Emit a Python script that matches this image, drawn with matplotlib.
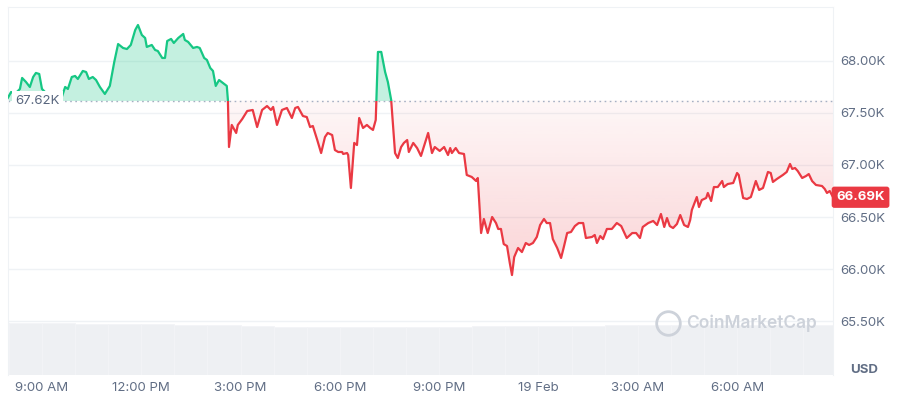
import numpy as np
import matplotlib
matplotlib.use('Agg')
import matplotlib.pyplot as plt
from matplotlib.patches import Rectangle

plt.rcParams['font.family'] = ['Inter', 'DejaVu Sans']

# minutes since 18 Feb 00:00 and BTC price (USD)
minutes = [478, 484, 491, 500, 504, 511, 518, 524, 529, 535, 540, 551, 564, 576, 582, 587,
           594, 600, 605, 614, 620, 625, 632, 638, 645, 654, 663, 671, 678, 687, 694, 701,
           709, 714, 721, 727, 730, 739, 745, 750, 758, 763, 767, 774, 779, 787, 796, 799,
           805, 814, 821, 826, 834, 839, 845, 850, 855, 861, 868, 875, 877, 879, 884, 892,
           895, 903, 912, 922, 930, 939, 948, 955, 959, 966, 975, 984, 993, 999, 1004, 1013,
           1020, 1026, 1031, 1039, 1046, 1053, 1058, 1066, 1071, 1077, 1084, 1086, 1093, 1095,
           1100, 1106, 1111, 1115, 1122, 1129, 1135, 1140, 1145, 1149, 1155, 1162, 1167, 1173,
           1180, 1185, 1191, 1196, 1202, 1205, 1213, 1220, 1227, 1232, 1240, 1247, 1252, 1261,
           1269, 1276, 1280, 1283, 1290, 1296, 1305, 1310, 1319, 1327, 1330, 1336, 1341, 1348,
           1356, 1363, 1367, 1372, 1377, 1383, 1388, 1392, 1396, 1403, 1410, 1417, 1423, 1430,
           1437, 1443, 1450, 1455, 1461, 1466, 1474, 1481, 1486, 1492, 1499, 1506, 1513, 1521,
           1526, 1537, 1542, 1546, 1552, 1557, 1564, 1573, 1582, 1590, 1595, 1600, 1610, 1617,
           1624, 1629, 1639, 1648, 1655, 1662, 1668, 1673, 1678, 1684, 1691, 1697, 1704, 1711,
           1715, 1718, 1727, 1731, 1736, 1744, 1747, 1753, 1758, 1765, 1773, 1776, 1783, 1793,
           1800, 1803, 1811, 1818, 1825, 1834, 1840, 1847, 1856, 1861, 1865, 1872, 1883, 1890,
           1896, 1900, 1905, 1910, 1918, 1925, 1930, 1936, 1943, 1954, 1959, 1963, 1968, 1974]
prices = [67644, 67702, 67683, 67731, 67837, 67798, 67750, 67846, 67885, 67875, 67731, 67673,
          67663, 67654, 67750, 67731, 67846, 67856, 67827, 67904, 67894, 67827, 67846, 67817,
          67750, 67683, 67760, 67990, 68163, 68125, 68115, 68154, 68298, 68346, 68250, 68221,
          68135, 68154, 68106, 68096, 68029, 68029, 68192, 68212, 68173, 68221, 68260, 68202,
          68183, 68125, 68135, 68125, 68029, 68010, 67933, 67904, 67760, 67817, 67788, 67760,
          67625, 67173, 67385, 67308, 67385, 67442, 67519, 67529, 67365, 67529, 67567, 67529,
          67558, 67385, 67529, 67548, 67452, 67548, 67558, 67471, 67461, 67365, 67375, 67240,
          67115, 67269, 67308, 67288, 67144, 67125, 67125, 67106, 67115, 67096, 66779, 67212,
          67192, 67452, 67356, 67385, 67356, 67337, 67433, 68087, 68087, 67894, 67798, 67625,
          67115, 67067, 67173, 67212, 67240, 67125, 67212, 67163, 67087, 67173, 67308, 67115,
          67173, 67135, 67173, 67096, 67163, 67115, 67163, 67115, 67106, 66904, 66885, 66846,
          66875, 66346, 66481, 66346, 66500, 66442, 66385, 66385, 66240, 66221, 66058, 65942,
          66115, 66202, 66163, 66250, 66231, 66250, 66308, 66423, 66481, 66442, 66442, 66288,
          66202, 66106, 66212, 66346, 66356, 66413, 66442, 66442, 66298, 66308, 66327, 66250,
          66317, 66288, 66385, 66385, 66442, 66413, 66356, 66298, 66346, 66346, 66298, 66404,
          66442, 66462, 66423, 66529, 66404, 66490, 66413, 66394, 66433, 66519, 66423, 66404,
          66471, 66567, 66692, 66596, 66663, 66683, 66731, 66654, 66788, 66788, 66846, 66788,
          66817, 66827, 66923, 66904, 66683, 66673, 66692, 66846, 66760, 66779, 66933, 66923,
          66837, 66865, 66904, 66933, 67010, 66962, 66971, 66942, 66875, 66894, 66913, 66846,
          66808, 66798, 66769, 66731, 66750, 66690]
open_price = 67620
last_price = 66690

# volume strip (relative levels per hour)
vol_hours = list(range(7, 33))
vol_levels = [1.0, 1.0, 1.0, 0.99, 0.98, 0.98, 0.97, 0.96, 0.95, 0.93, 0.93, 0.92, 0.92,
              0.93, 0.93, 0.94, 0.95, 0.95, 0.95, 0.96, 0.96, 0.96, 0.97, 0.97, 0.97, 0.97]

tick_minutes = [540, 720, 900, 1080, 1260, 1440, 1620, 1800]
tick_labels = ['9:00 AM', '12:00 PM', '3:00 PM', '6:00 PM', '9:00 PM', '19 Feb', '3:00 AM', '6:00 AM']
y_ticks = [65500, 66000, 66500, 67000, 67500, 68000]

GREEN = '#16c784'
RED = '#ea3943'
GRAY = '#616e85'
GRID = '#eff2f5'

t = np.array(minutes, dtype=float)
p = np.array(prices, dtype=float)

fig = plt.figure(figsize=(9, 4), dpi=100)
ax = fig.add_axes([8 / 900, 25 / 400, 825 / 900, 368 / 400])
ax2 = ax.twinx()
ax.set_zorder(2)
ax.patch.set_visible(False)

# volume band
ax2.bar(np.array(vol_hours) * 60, vol_levels, width=60, align='edge',
        color='#eef0f3', edgecolor='#f3f4f7', linewidth=0.6)
ax2.set_ylim(0, 7.08)
ax2.set_axis_off()

xmin, xmax = 478.4, 1973.9
ymin, ymax = 64981, 68519

# fills
ax.fill_between(t, np.maximum(p, open_price), open_price, color=GREEN, alpha=0.25, lw=0)
poly = ax.fill_between(t, np.minimum(p, open_price), open_price, facecolor='none', lw=0)
grad = np.zeros((256, 1, 4))
grad[..., :3] = matplotlib.colors.to_rgb(RED)
grad[:, 0, 3] = np.linspace(0.04, 0.22, 256)
im = ax.imshow(grad, extent=[t[0], t[-1], min(prices), open_price], aspect='auto',
               origin='upper', zorder=1)
im.set_clip_path(poly.get_paths()[0], ax.transData)

# reference line
ax.axhline(open_price, color='#a6b0c3', lw=1, ls=(0, (1.2, 2.5)), zorder=2)

# price line, green above open, red below
above = Rectangle((xmin, open_price), xmax - xmin, 1e5, transform=ax.transData)
below = Rectangle((xmin, open_price - 1e5), xmax - xmin, 1e5, transform=ax.transData)
g, = ax.plot(t, p, color=GREEN, lw=1.6, solid_joinstyle='round', zorder=3)
g.set_clip_path(above)
r, = ax.plot(t, p, color=RED, lw=1.6, solid_joinstyle='round', zorder=3)
r.set_clip_path(below)

ax.set_xlim(xmin, xmax)
ax.set_ylim(ymin, ymax)

ax.set_yticks(y_ticks)
ax.yaxis.set_major_formatter(lambda v, pos: f'{v / 1000:.2f}K')
ax.tick_params(axis='y', length=0, pad=5, labelright=True, labelleft=False,
               labelcolor=GRAY, labelsize=9.5)
ax.set_xticks(tick_minutes, tick_labels)
ax.tick_params(axis='x', length=0, pad=5, labelcolor=GRAY, labelsize=9.5)
ax.grid(axis='y', color=GRID, lw=1)
ax.set_axisbelow(True)
for s in ax.spines.values():
    s.set_color(GRID)
ax.spines['bottom'].set_visible(False)

# labels
ax.text(0.009, open_price, '67.62K', transform=ax.get_yaxis_transform(), ha='left',
        va='center', fontsize=9.5, color='#58667e', zorder=5,
        bbox=dict(boxstyle='square,pad=0.25', fc='white', ec='none'))
ax.text(1.004, last_price, '66.69K', transform=ax.get_yaxis_transform(), ha='left',
        va='center', fontsize=9.5, color='white', weight='bold', clip_on=False, zorder=5,
        bbox=dict(boxstyle='round,pad=0.35,rounding_size=0.2', fc=RED, ec='none'))
fig.text(864 / 900, 1 - 370 / 400, 'USD', ha='center', va='center', fontsize=9.5,
         color=GRAY, weight='bold')

# watermark
ax.plot([0.8], [0.141], marker='o', ms=17, mfc='none', mec='#cdd2da', mew=2,
        transform=ax.transAxes, zorder=4)
ax.text(0.822, 0.141, 'CoinMarketCap', transform=ax.transAxes, ha='left', va='center',
        fontsize=12.5, color='#cdd2da', weight='semibold', zorder=4)

fig.savefig('out.png', dpi=100)
